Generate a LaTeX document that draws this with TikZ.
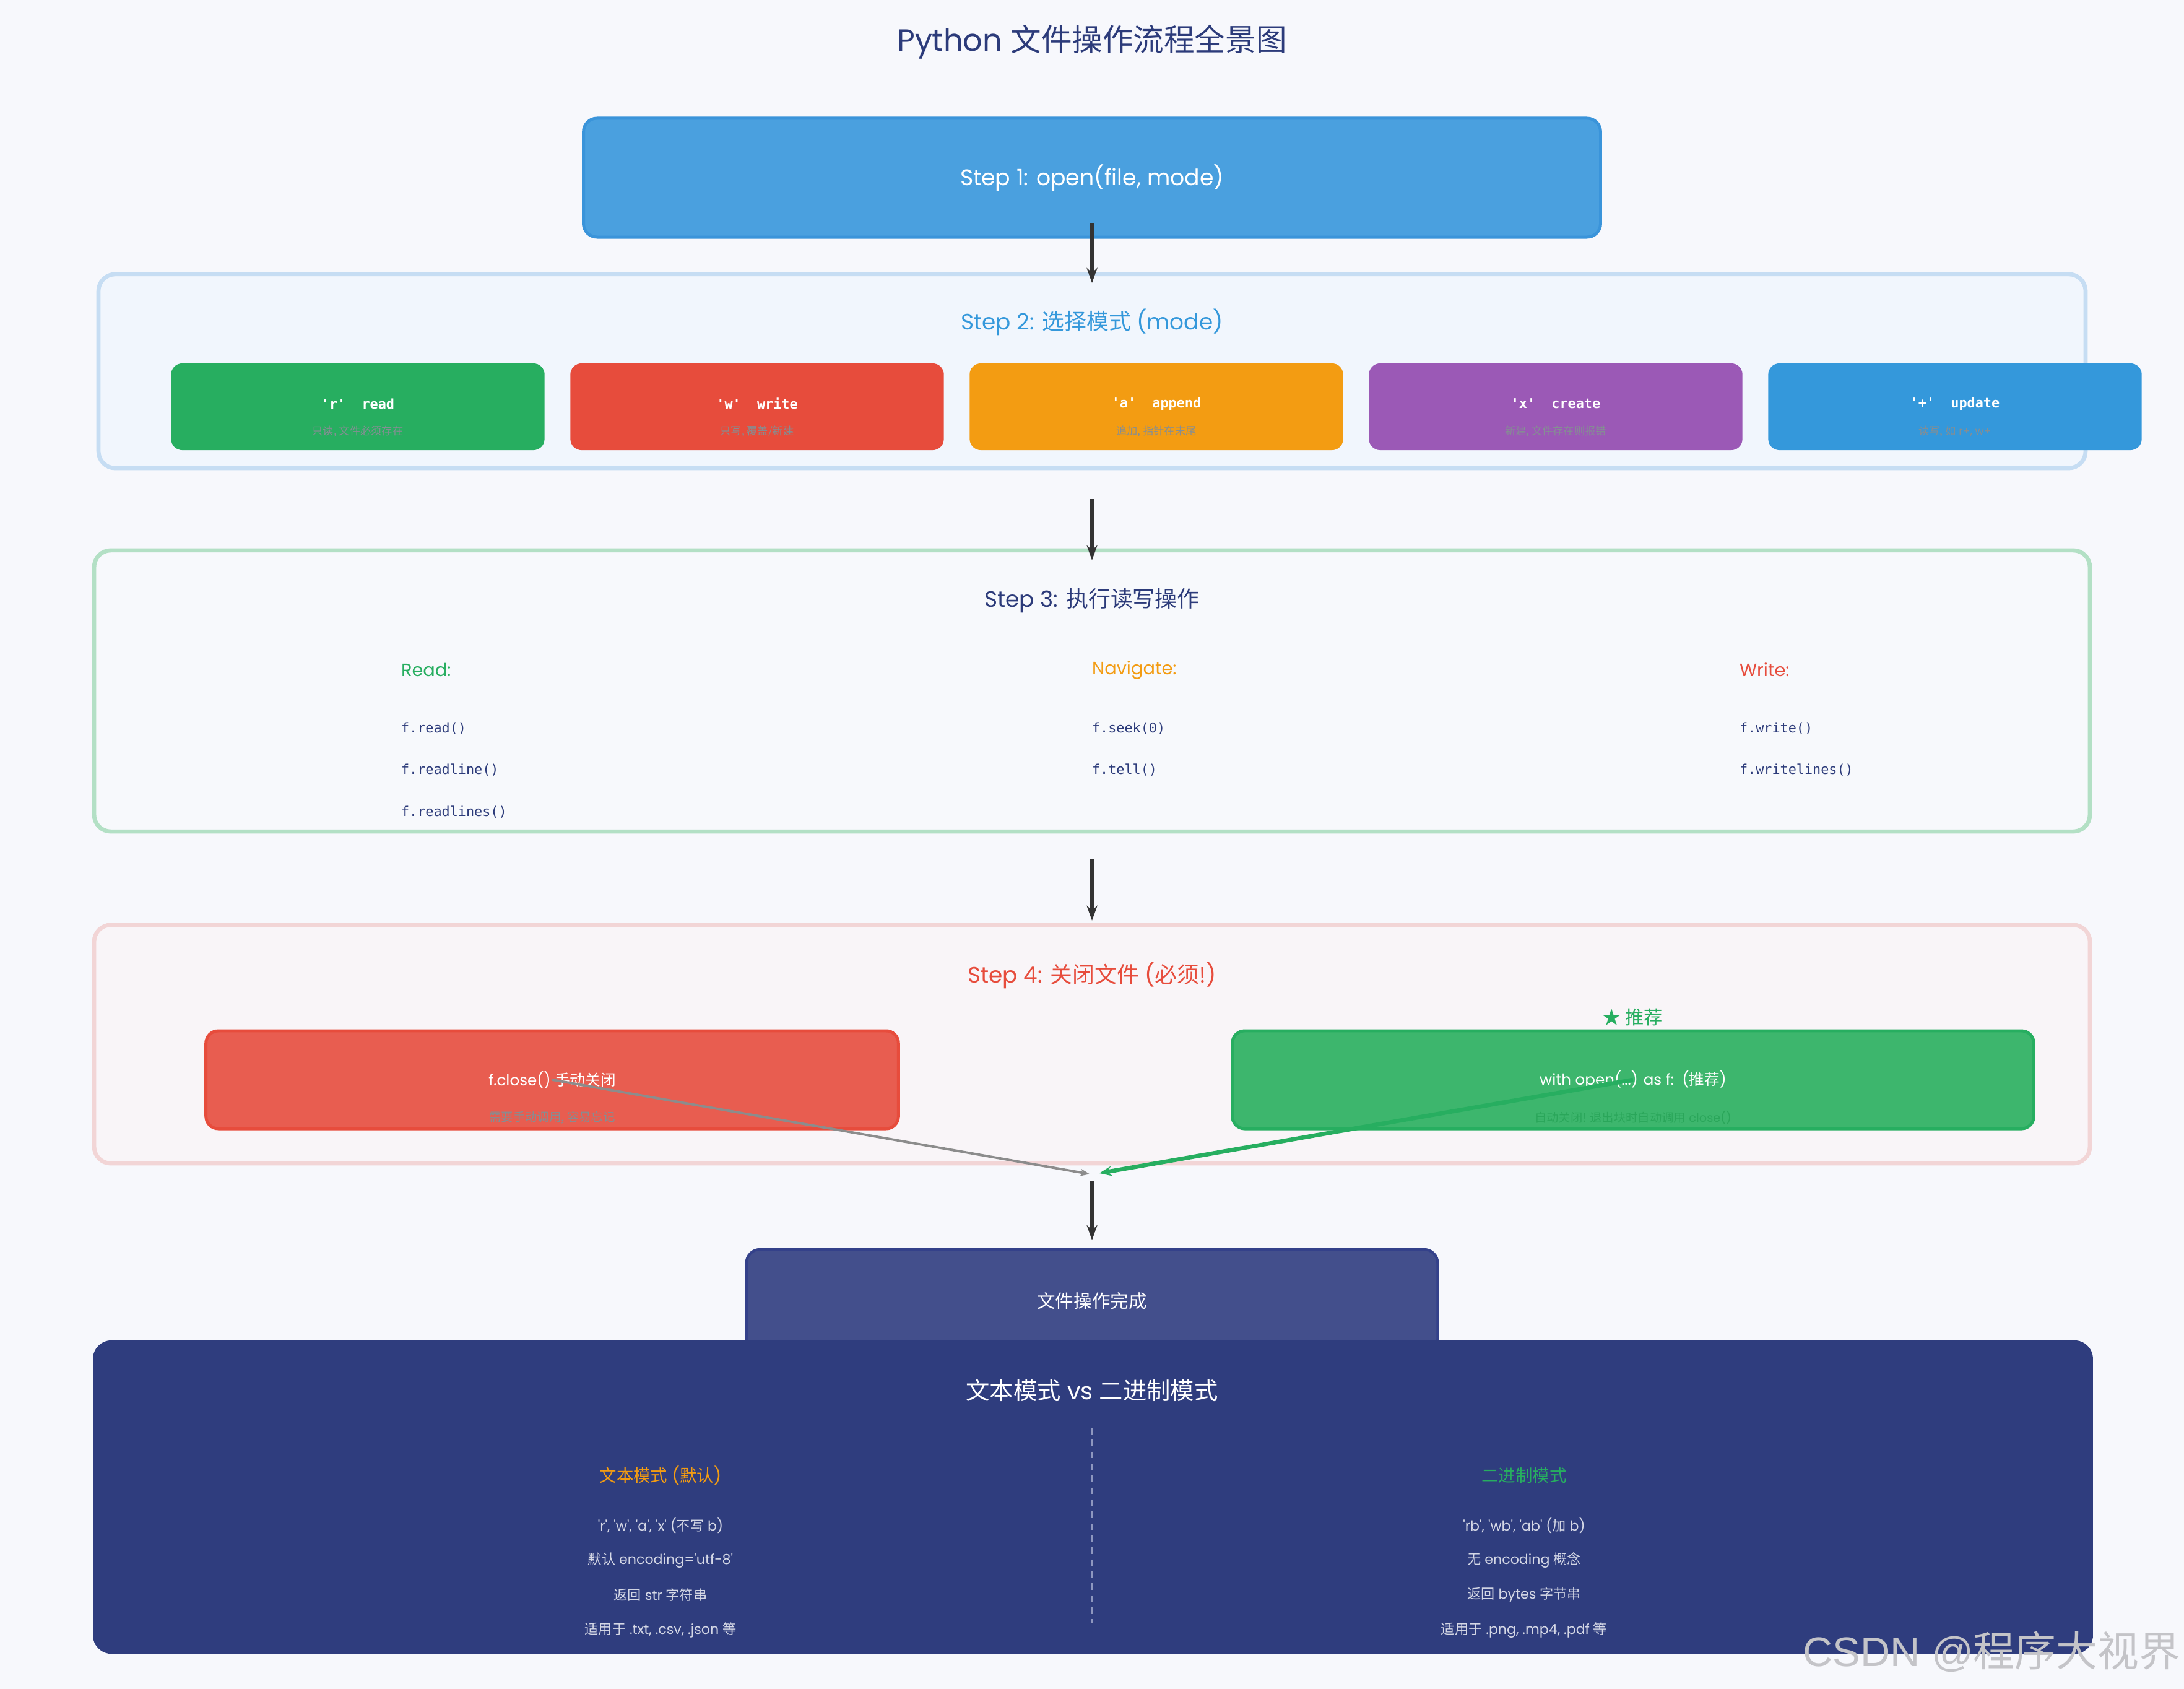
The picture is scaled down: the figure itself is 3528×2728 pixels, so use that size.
\documentclass[tikz,border=0pt]{standalone}
\usepackage{fontspec}
\setmainfont{Poppins}[Ligatures=TeXOff]
\newfontfamily\cjkf{Noto Sans CJK SC}
\newfontfamily\monof{DejaVu Sans Mono}[Ligatures=TeXOff]
\newfontfamily\wmf{Liberation Sans}
\usetikzlibrary{arrows.meta}
\newcommand\zh[1]{{\cjkf #1}}
\newcommand\fs[1]{\fontsize{#1}{#1}\selectfont}
\definecolor{bgc}{HTML}{F7F8FC}
\definecolor{navy}{HTML}{2C3B7A}
\definecolor{s1fill}{HTML}{4AA0DF}
\definecolor{s1line}{HTML}{3A94DA}
\definecolor{c2fill}{HTML}{F1F6FD}
\definecolor{c2line}{HTML}{C6DDF3}
\definecolor{blueA}{HTML}{3498DB}
\definecolor{mgreen}{HTML}{27AE60}
\definecolor{mred}{HTML}{E74C3C}
\definecolor{morange}{HTML}{F39C12}
\definecolor{mpurple}{HTML}{9B59B6}
\definecolor{mblue}{HTML}{3498DB}
\definecolor{subgray}{HTML}{858E93}
\definecolor{c3fill}{HTML}{F7F9FC}
\definecolor{c3line}{HTML}{B3E0C5}
\definecolor{c4fill}{HTML}{F9F5F8}
\definecolor{c4line}{HTML}{F2D5D6}
\definecolor{rfill}{HTML}{E85D50}
\definecolor{gfill}{HTML}{3DB66D}
\definecolor{gsub}{HTML}{2AA65A}
\definecolor{finfill}{HTML}{434F8C}
\definecolor{finline}{HTML}{34418A}
\definecolor{botfill}{HTML}{2F3D7E}
\definecolor{lightline}{HTML}{D5D8E6}
\definecolor{divc}{HTML}{8E97BF}
\definecolor{arrc}{HTML}{333333}
\definecolor{wmc}{HTML}{C4C4C8}
\begin{document}
\begin{tikzpicture}[x=0.01cm,y=-0.01cm,
  every node/.style={inner sep=0pt, outer sep=0pt},
  stepone/.style={fill=s1fill, draw=s1line, line width=1.4pt, rounded corners=0.22cm,
    minimum width=16.42cm, minimum height=1.92cm, text=white, font=\fs{10.3}},
  cont/.style={line width=1.9pt, rounded corners=0.27cm, minimum width=32.08cm},
  sectitle/.style={font=\fs{10.2}},
  modebox/.style={rounded corners=0.18cm, minimum width=6.03cm, minimum height=1.40cm},
  modelabel/.style={text=white, font=\monof\bfseries\fs{6.2}},
  modesub/.style={text=subgray, font=\fs{4.9}},
  collabel/.style={anchor=west, font=\fs{8.2}},
  codetxt/.style={anchor=west, text=navy, font=\monof\fs{6.2}},
  closebox/.style={line width=1.4pt, rounded corners=0.2cm, minimum height=1.58cm,
    text=white, font=\fs{7.0}},
  closesub/.style={font=\fs{5.5}},
  arr/.style={draw=arrc, line width=1.6pt, -{Stealth[length=0.24cm, width=0.17cm]}},
  botline/.style={text=lightline, font=\fs{6.3}},
  bothead/.style={font=\fs{7.8}}
]
\useasboundingbox (0,0) rectangle (3528,2728);
\fill[bgc] (0,0) rectangle (3528,2728);

% title
\node[text=navy, font=\fs{14.1}] (title) at (1764,68) {Python \zh{文件操作流程全景图}};

% step 1
\node[stepone] (s1) at (1764,287) {Step 1: open(file, mode)};

% step 2
\node[cont, fill=c2fill, draw=c2line, minimum height=3.13cm] (s2) at (1764,599.5) {};
\node[sectitle, text=blueA] (t2) at (1764,520) {Step 2: \zh{选择模式} (mode)};

\node[modebox, fill=mgreen] (m1) at (578,657) {};
\node[modelabel] (m1a) at ([yshift=0.05cm]m1.center) {'r'\ \ read};
\node[modesub] (m1b) at ([yshift=-0.40cm]m1.center) {\zh{只读, 文件必须存在}};

\node[modebox, fill=mred] (m2) at (1223,657) {};
\node[modelabel] (m2a) at ([yshift=0.05cm]m2.center) {'w'\ \ write};
\node[modesub] (m2b) at ([yshift=-0.40cm]m2.center) {\zh{只写, 覆盖/新建}};

\node[modebox, fill=morange] (m3) at (1868,657) {};
\node[modelabel] (m3a) at ([yshift=0.05cm]m3.center) {'a'\ \ append};
\node[modesub] (m3b) at ([yshift=-0.40cm]m3.center) {\zh{追加, 指针在末尾}};

\node[modebox, fill=mpurple] (m4) at (2513,657) {};
\node[modelabel] (m4a) at ([yshift=0.05cm]m4.center) {'x'\ \ create};
\node[modesub] (m4b) at ([yshift=-0.40cm]m4.center) {\zh{新建, 文件存在则报错}};

\node[modebox, fill=mblue] (m5) at (3158,657) {};
\node[modelabel] (m5a) at ([yshift=0.05cm]m5.center) {'+'\ \ update};
\node[modesub] (m5b) at ([yshift=-0.40cm]m5.center) {\zh{读写, 如} r+, w+};

% step 3
\node[cont, fill=c3fill, draw=c3line, minimum width=32.22cm, minimum height=4.54cm] (s3) at (1764,1116) {};
\node[sectitle, text=navy] (t3) at (1764,970) {Step 3: \zh{执行读写操作}};
\node[collabel, text=mgreen] (rd) at (648,1082) {Read:};
\node[collabel, text=morange] (nv) at (1764,1082) {Navigate:};
\node[collabel, text=mred] (wr) at (2810,1082) {Write:};
\node[codetxt] (c1) at (648,1177) {f.read()};
\node[codetxt] (c2) at (648,1244) {f.readline()};
\node[codetxt] (c3) at (648,1312) {f.readlines()};
\node[codetxt] (c4) at (1764,1177) {f.seek(0)};
\node[codetxt] (c5) at (1764,1244) {f.tell()};
\node[codetxt] (c6) at (2810,1177) {f.write()};
\node[codetxt] (c7) at (2810,1244) {f.writelines()};

% step 4
\node[cont, fill=c4fill, draw=c4line, minimum width=32.22cm, minimum height=3.85cm] (s4) at (1764,1686.5) {};
\node[sectitle, text=mred] (t4) at (1764,1575) {Step 4: \zh{关闭文件} (\zh{必须}!)};
\node[text=mgreen, font=\fs{8.6}] (star) at (2637,1643) {\zh{★ 推荐}};

\node[closebox, fill=rfill, draw=mred, minimum width=11.18cm] (fc) at (892,1744) {f.close() \zh{手动关闭}};
\node[closesub, text=subgray] (fcs) at (892,1805) {\zh{需要手动调用, 容易忘记}};
\node[closebox, fill=gfill, draw=mgreen, minimum width=12.94cm] (wo) at (2638,1744) {with open(...) as f:\ \ (\zh{推荐})};
\node[closesub, text=gsub] (wos) at (2638,1805) {\zh{自动关闭! 退出块时自动调用} close()};

\coordinate (mrg) at (1764,1897);
\draw[draw=gray!90, line width=1.1pt, -{Stealth[length=0.15cm, width=0.12cm]}, shorten >=0.04cm] (fc.center) -- (mrg);
\draw[draw=mgreen, line width=1.9pt, -{Stealth[length=0.2cm, width=0.16cm]}, shorten >=0.12cm] (wo.center) -- (mrg);

% final
\node[fill=finfill, draw=finline, line width=1.2pt, rounded corners=0.22cm,
  minimum width=11.16cm, minimum height=1.66cm, text=white, font=\fs{8.4}] (fin) at (1764,2101) {\zh{文件操作完成}};

% arrows between steps
\draw[arr] ([yshift=0.23cm]s1.south) -- ([yshift=-0.14cm]s2.north);
\draw[arr] ([yshift=-0.50cm]s2.south) -- ([yshift=-0.16cm]s3.north);
\draw[arr] ([yshift=-0.45cm]s3.south) -- ([yshift=0.07cm]s4.north);
\draw[arr] ([yshift=-0.29cm]s4.south) -- ([yshift=0.15cm]fin.north);

% comparison panel
\node[fill=botfill, rounded corners=0.3cm, minimum width=32.29cm, minimum height=5.06cm] (cmp) at (1765.5,2418) {};
\node[text=white, font=\fs{10.9}] (cmpt) at (1764,2246) {\zh{文本模式} vs \zh{二进制模式}};
\draw[divc, line width=0.6pt, dash pattern=on 3pt off 2.5pt] (1764,2306) -- (1764,2621);

\node[bothead, text=morange] (lh) at (1067,2383) {\zh{文本模式} (\zh{默认})};
\node[botline] (l1) at (1067,2464) {'r', 'w', 'a', 'x' (\zh{不写} b)};
\node[botline] (l2) at (1067,2520) {\zh{默认} encoding='utf-8'};
\node[botline] (l3) at (1067,2576) {\zh{返回} str \zh{字符串}};
\node[botline] (l4) at (1067,2633) {\zh{适用于} .txt, .csv, .json \zh{等}};

\node[bothead, text=mgreen] (rh) at (2462,2383) {\zh{二进制模式}};
\node[botline] (r1) at (2462,2464) {'rb', 'wb', 'ab' (\zh{加} b)};
\node[botline] (r2) at (2462,2520) {\zh{无} encoding \zh{概念}};
\node[botline] (r3) at (2462,2576) {\zh{返回} bytes \zh{字节串}};
\node[botline] (r4) at (2462,2633) {\zh{适用于} .png, .mp4, .pdf \zh{等}};

% watermark
\node[anchor=east, text=wmc, font=\fs{19}] (wm) at (3522,2668) {{\wmf CSDN @}\zh{程序大视界}};
\end{tikzpicture}
\end{document}
